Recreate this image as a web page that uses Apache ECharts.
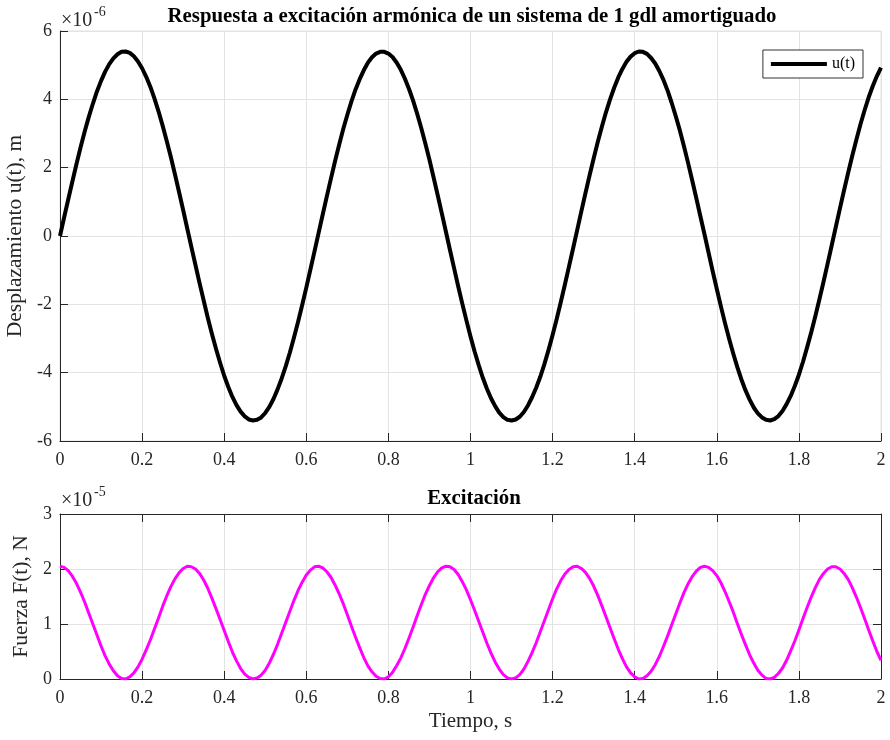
<!DOCTYPE html>
<html>
<head>
<meta charset="UTF-8">
<title>Respuesta a excitación armónica</title>
<script src="https://cdn.jsdelivr.net/npm/echarts@6.0.0/dist/echarts.min.js"></script>
<style type="text/css">
body{margin:0;padding:0;background:#fff;}
#main{width:890px;height:740px;}
</style>
</head>
<body>
<div id="main"></div>
<script type="text/javascript">
// paso de muestreo (s) y valores
var paso = 0.01;
// desplazamiento u(t), en unidades de 1e-6 m
var desplazamiento = [
  0, 0.54, 1.07, 1.59, 2.10, 2.59, 3.05, 3.48, 3.87, 4.23,
  4.54, 4.81, 5.03, 5.20, 5.32, 5.39, 5.40, 5.36, 5.26, 5.11,
  4.91, 4.66, 4.37, 4.03, 3.65, 3.23, 2.78, 2.31, 1.81, 1.29,
  0.76, 0.22, -0.32, -0.85, -1.38, -1.89, -2.39, -2.86, -3.30, -3.71,
  -4.09, -4.42, -4.71, -4.95, -5.14, -5.28, -5.37, -5.40, -5.38, -5.31,
  -5.18, -5.00, -4.77, -4.49, -4.17, -3.81, -3.41, -2.97, -2.51, -2.02,
  -1.51, -0.98, -0.45, 0.09, 0.63, 1.16, 1.68, 2.19, 2.67, 3.13,
  3.55, 3.94, 4.29, 4.59, 4.85, 5.07, 5.23, 5.34, 5.39, 5.39,
  5.34, 5.24, 5.08, 4.87, 4.61, 4.31, 3.97, 3.58, 3.16, 2.71,
  2.23, 1.72, 1.20, 0.67, 0.13, -0.41, -0.94, -1.47, -1.98, -2.47,
  -2.94, -3.38, -3.78, -4.15, -4.47, -4.75, -4.98, -5.17, -5.30, -5.38,
  -5.40, -5.37, -5.29, -5.15, -4.96, -4.72, -4.44, -4.12, -3.75, -3.34,
  -2.90, -2.43, -1.93, -1.42, -0.89, -0.36, 0.18, 0.72, 1.25, 1.77,
  2.27, 2.75, 3.20, 3.62, 4.00, 4.34, 4.64, 4.89, 5.10, 5.25,
  5.35, 5.40, 5.39, 5.33, 5.21, 5.05, 4.83, 4.57, 4.26, 3.90,
  3.51, 3.09, 2.63, 2.14, 1.63, 1.11, 0.58, 0.05, -0.49, -1.03,
  -1.55, -2.06, -2.55, -3.01, -3.44, -3.84, -4.20, -4.52, -4.79, -5.02,
  -5.19, -5.31, -5.38, -5.40, -5.36, -5.27, -5.12, -4.92, -4.68, -4.39,
  -4.06, -3.68, -3.26, -2.82, -2.35, -1.85, -1.34, -0.81, -0.27, 0.27,
  0.81, 1.34, 1.85, 2.35, 2.82, 3.27, 3.68, 4.06, 4.39, 4.68,
  4.93
];
// fuerza F(t), en unidades de 1e-5 N
var fuerza = [
  2.05, 2.03, 1.97, 1.87, 1.74, 1.58, 1.40, 1.20, 1.00, 0.80,
  0.60, 0.42, 0.27, 0.15, 0.06, 0.01, 0.00, 0.04, 0.11, 0.22,
  0.36, 0.53, 0.71, 0.91, 1.11, 1.32, 1.51, 1.68, 1.82, 1.93,
  2.01, 2.05, 2.04, 2.00, 1.92, 1.80, 1.65, 1.47, 1.28, 1.08,
  0.88, 0.68, 0.49, 0.33, 0.19, 0.09, 0.03, 0.00, 0.02, 0.07,
  0.16, 0.29, 0.45, 0.63, 0.83, 1.03, 1.23, 1.43, 1.61, 1.76,
  1.89, 1.98, 2.04, 2.05, 2.02, 1.95, 1.85, 1.71, 1.55, 1.37,
  1.17, 0.96, 0.76, 0.57, 0.39, 0.24, 0.13, 0.05, 0.01, 0.00,
  0.04, 0.12, 0.24, 0.38, 0.55, 0.74, 0.94, 1.15, 1.35, 1.54,
  1.70, 1.84, 1.95, 2.02, 2.05, 2.04, 1.99, 1.90, 1.77, 1.62,
  1.44, 1.25, 1.05, 0.85, 0.65, 0.47, 0.31, 0.18, 0.08, 0.02,
  0.00, 0.02, 0.08, 0.18, 0.32, 0.48, 0.66, 0.86, 1.06, 1.26,
  1.46, 1.64, 1.79, 1.91, 1.99, 2.04, 2.05, 2.01, 1.94, 1.83,
  1.69, 1.52, 1.33, 1.13, 0.93, 0.73, 0.54, 0.37, 0.22, 0.11,
  0.04, 0.00, 0.01, 0.06, 0.14, 0.26, 0.41, 0.59, 0.78, 0.98,
  1.18, 1.38, 1.57, 1.73, 1.86, 1.96, 2.03, 2.05, 2.03, 1.97,
  1.88, 1.75, 1.59, 1.41, 1.22, 1.01, 0.81, 0.62, 0.44, 0.29,
  0.16, 0.07, 0.01, 0.00, 0.03, 0.10, 0.20, 0.34, 0.51, 0.69,
  0.89, 1.10, 1.30, 1.49, 1.66, 1.81, 1.92, 2.00, 2.04, 2.04,
  2.00, 1.92, 1.81, 1.66, 1.49, 1.30, 1.10, 0.89, 0.69, 0.50,
  0.34
];
var ticksTiempo = [0, 2, 0.2];
var ticksU = [-6, 6, 2];
var ticksF = [0, 3, 1];

function pares(vals) {
  return vals.map(function (v, i) {
    return [Math.round(i * paso * 1000) / 1000, v];
  });
}

var serif = "'Liberation Serif', 'DejaVu Serif', serif";
var oscuro = '#262626';
var gris = '#e3e3e3';

function ejeX(grid, extra) {
  var eje = {
    gridIndex: grid, type: 'value',
    min: ticksTiempo[0], max: ticksTiempo[1], interval: ticksTiempo[2],
    axisLine: {show: true, onZero: false, lineStyle: {color: oscuro, width: 1}},
    axisTick: {show: true, inside: true, length: 8, lineStyle: {color: oscuro}},
    axisLabel: {show: true, color: oscuro, fontFamily: serif, fontSize: 18, margin: 10},
    splitLine: {show: true, lineStyle: {color: gris, width: 1}}
  };
  for (var k in extra) eje[k] = extra[k];
  return eje;
}
function ejeY(grid, t, extra) {
  var eje = {
    gridIndex: grid, type: 'value',
    min: t[0], max: t[1], interval: t[2],
    axisLine: {show: true, onZero: false, lineStyle: {color: oscuro, width: 1}},
    axisTick: {show: true, inside: true, length: 8, lineStyle: {color: oscuro}},
    axisLabel: {show: true, color: oscuro, fontFamily: serif, fontSize: 18, margin: 8},
    splitLine: {show: true, lineStyle: {color: gris, width: 1}}
  };
  for (var k in extra) eje[k] = extra[k];
  return eje;
}

var myChart = echarts.init(document.getElementById('main'));
myChart.setOption({
  animation: false,
  backgroundColor: '#fff',
  grid: [
    {left: 60, top: 31, width: 821, height: 410, show: true, borderColor: gris, borderWidth: 1,
      containLabel: false, outerBoundsMode: 'none'},
    {left: 60, top: 514, width: 821, height: 165, containLabel: false, outerBoundsMode: 'none'}
  ],
  legend: {
    data: ['u(t)'],
    right: 27, top: 50,
    backgroundColor: '#fff', borderColor: '#333', borderWidth: 1,
    padding: [6, 8, 6, 8], borderRadius: 0,
    itemWidth: 56, itemHeight: 4, icon: 'rect',
    textStyle: {fontFamily: serif, fontSize: 16, color: '#000'}
  },
  xAxis: [
    ejeX(0, {}),
    ejeX(1, {name: 'Tiempo, s', nameLocation: 'middle', nameGap: 32,
      nameTextStyle: {fontFamily: serif, fontSize: 21, color: oscuro}}),
    ejeX(1, {position: 'top', axisLabel: {show: false}, splitLine: {show: false}})
  ],
  yAxis: [
    ejeY(0, ticksU, {name: 'Desplazamiento u(t), m', nameLocation: 'middle', nameGap: 30,
      nameTextStyle: {fontFamily: serif, fontSize: 21.5, color: oscuro}}),
    ejeY(1, ticksF, {name: 'Fuerza F(t), N', nameLocation: 'middle', nameGap: 25,
      nameTextStyle: {fontFamily: serif, fontSize: 21.5, color: oscuro}}),
    ejeY(1, ticksF, {position: 'right', axisLabel: {show: false}, splitLine: {show: false}})
  ],
  graphic: [
    {type: 'text', x: 472, y: 17, style: {text: 'Respuesta a excitación armónica de un sistema de 1 gdl amortiguado',
      font: 'bold 20.8px ' + serif, fill: '#000', textAlign: 'center', textVerticalAlign: 'middle'}},
    {type: 'text', x: 474, y: 499, style: {text: 'Excitación',
      font: 'bold 20.8px ' + serif, fill: '#000', textAlign: 'center', textVerticalAlign: 'middle'}},
    {type: 'text', x: 61, y: 21, style: {text: '×10', font: '20px ' + serif, fill: oscuro, textVerticalAlign: 'middle'}},
    {type: 'text', x: 94, y: 12, style: {text: '-6', font: '14px ' + serif, fill: oscuro, textVerticalAlign: 'middle'}},
    {type: 'text', x: 61, y: 501, style: {text: '×10', font: '20px ' + serif, fill: oscuro, textVerticalAlign: 'middle'}},
    {type: 'text', x: 94, y: 492, style: {text: '-5', font: '14px ' + serif, fill: oscuro, textVerticalAlign: 'middle'}}
  ],
  series: [
    {
      name: 'u(t)', type: 'line', xAxisIndex: 0, yAxisIndex: 0,
      data: pares(desplazamiento), showSymbol: false, symbol: 'none', smooth: false,
      itemStyle: {color: '#000'}, lineStyle: {color: '#000', width: 4, join: 'round'}
    },
    {
      name: 'F(t)', type: 'line', xAxisIndex: 1, yAxisIndex: 1,
      data: pares(fuerza), showSymbol: false, symbol: 'none', smooth: false,
      itemStyle: {color: '#ff00ff'}, lineStyle: {color: '#ff00ff', width: 3, join: 'round'}
    }
  ]
});
</script>
</body>
</html>
